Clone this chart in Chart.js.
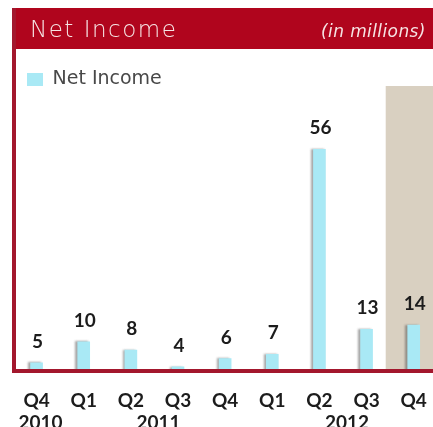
<!DOCTYPE html>
<html lang="en">
<head>
<meta charset="UTF-8">
<title>Net Income</title>
<script src="https://cdn.jsdelivr.net/npm/chart.js@4"></script>
<style>
  html, body { margin: 0; padding: 0; background: #fff; overflow: hidden; }
  .wrap { width: 433px; height: 427px; overflow: hidden; position: relative; }
  #incomeChart { position: absolute; left: 0; top: 0; }
</style>
</head>
<body>
<div class="wrap"><canvas id="incomeChart" width="447" height="427"></canvas></div>
<script>
// quarterly net income, in millions
const quarters = ['Q4', 'Q1', 'Q2', 'Q3', 'Q4', 'Q1', 'Q2', 'Q3', 'Q4'];
const netIncome = [5, 10, 8, 4, 6, 7, 56, 13, 14];
// year captions: text + the tick indexes they sit under
const years = ['2010', '2011', '2012'];
const yearSpan = [[0, 0], [2, 3], [6, 7]];

const RED = '#b0051d';
const EDGE = '#a3172d';
const FONT = 'Lato, "DejaVu Sans", sans-serif';
const WIDE = '"DejaVu Sans", sans-serif';

// frame, header strip and the shaded last column
const framePlugin = {
  id: 'frame',
  beforeDraw(chart) {
    const ctx = chart.ctx;
    const area = chart.chartArea;
    const x = chart.scales.x;
    ctx.save();
    ctx.fillStyle = '#d9d0c1';
    const shadeLeft = x.getPixelForValue(8) - 28;
    ctx.fillRect(shadeLeft, 86, chart.width - shadeLeft, area.bottom - 86);

    ctx.fillStyle = RED;
    ctx.fillRect(12, 8, chart.width - 12, 41);
    ctx.fillStyle = EDGE;
    ctx.fillRect(12, 8, 4, area.bottom + 4 - 8);

    ctx.fillStyle = '#f6e4e4';
    ctx.textBaseline = 'alphabetic';
    ctx.font = '300 23px ' + WIDE;
    ctx.letterSpacing = '1.5px';
    ctx.fillText('Net Income', 30, 37);
    ctx.font = 'italic 300 17px ' + WIDE;
    ctx.letterSpacing = '0.4px';
    ctx.fillText('(in millions)', 321, 37);
    ctx.restore();
  },
  afterDraw(chart) {
    const ctx = chart.ctx;
    const area = chart.chartArea;
    const x = chart.scales.x;
    ctx.save();
    ctx.fillStyle = EDGE;
    ctx.fillRect(12, area.bottom, chart.width - 12, 4);

    // year captions under the quarter ticks
    ctx.fillStyle = '#1c1c1c';
    ctx.font = 'bold 19px ' + FONT;
    ctx.textAlign = 'center';
    ctx.textBaseline = 'top';
    years.forEach((y, i) => {
      const cx = (x.getPixelForValue(yearSpan[i][0]) + x.getPixelForValue(yearSpan[i][1])) / 2;
      ctx.fillText(y, cx + 4, 413);
    });

    // value labels over each bar
    const meta = chart.getDatasetMeta(0);
    ctx.textBaseline = 'alphabetic';
    meta.data.forEach((bar, i) => {
      ctx.fillText(netIncome[i], bar.x + 1, bar.y - 15);
    });
    ctx.restore();
  }
};

// soft grey shadow on the left side of the bars
const shadowPlugin = {
  id: 'barShadow',
  beforeDatasetsDraw(chart) {
    const ctx = chart.ctx;
    ctx.save();
    ctx.shadowColor = 'rgba(60,60,60,0.45)';
    ctx.shadowOffsetX = -2;
    ctx.shadowBlur = 2;
  },
  afterDatasetsDraw(chart) {
    chart.ctx.restore();
  }
};

new Chart(document.getElementById('incomeChart'), {
  type: 'bar',
  data: {
    labels: quarters,
    datasets: [{
      label: 'Net Income',
      data: netIncome,
      backgroundColor: '#a9e9f5',
      borderWidth: 0,
      barThickness: 12
    }]
  },
  options: {
    responsive: false,
    animation: false,
    layout: { padding: { left: 13, right: 2, top: 56, bottom: 0 } },
    plugins: {
      legend: {
        display: true,
        align: 'start',
        labels: {
          boxWidth: 16,
          boxHeight: 13,
          padding: 14,
          color: '#484848',
          font: { family: WIDE, size: 19 }
        }
      },
      tooltip: { enabled: false }
    },
    scales: {
      x: {
        grid: { display: false, drawTicks: false },
        border: { display: false },
        ticks: {
          color: '#1c1c1c',
          padding: 20,
          font: { family: FONT, size: 19, weight: 'bold' }
        },
        afterFit(scale) { scale.height = 58; }
      },
      y: {
        display: false,
        min: 3.5,
        max: 68
      }
    }
  },
  plugins: [framePlugin, shadowPlugin]
});
</script>
</body>
</html>
